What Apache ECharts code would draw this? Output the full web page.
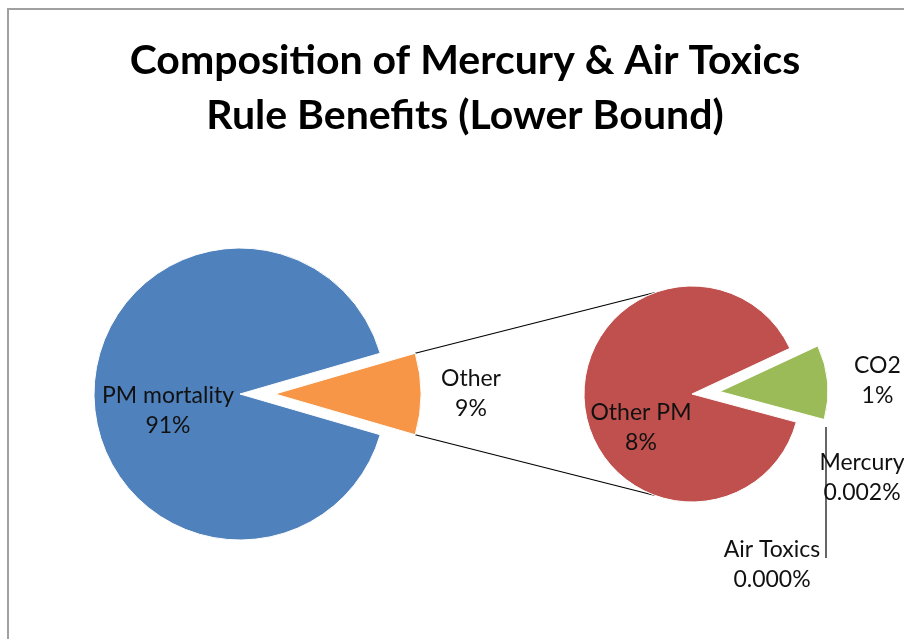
<!DOCTYPE html>
<html>
<head>
<meta charset="utf-8">
<script src="https://cdn.jsdelivr.net/npm/echarts@6/dist/echarts.min.js"></script>
<style>html,body{margin:0;padding:0;background:#fff;}#c{width:904px;height:639px;}</style>
</head>
<body>
<div id="c"></div>
<script>
// ---- data ----
var titleText = 'Composition of Mercury & Air Toxics\nRule Benefits (Lower Bound)';
var mainCategory = 'PM mortality';
var mainValue = 91;
var groupName = 'Other';
var subCategories = ['CO2', 'Mercury', 'Air Toxics', 'Other PM'];
var subValues = [1, 0.002, 0.0003, 8];
var subDecimals = [0, 3, 3, 0];

// ---- layout / style ----
var FONT = 'Lato';
var leftCenter = [240, 394], leftR = 146, leftOffset = 35;
var rightCenter = [692, 394], rightR = 108, rightOffset = 28, rightStart = 25;
var connAngle = 110;
var colors = {main: '#4F81BD', group: '#F79646', 'Other PM': '#C0504D', 'CO2': '#9BBB59', 'Mercury': '#8064A2', 'Air Toxics': '#4BACC6'};
var labelPos = {
  'PM mortality': [168, 411],
  'Other': [453, 396],
  'Other PM': [641, 428],
  'CO2': [852, 382],
  'Mercury': [862, 478],
  'Air Toxics': [772, 565]
};
var leaderX = 826, leaderTop = 427, leaderBottom = 558;

var groupValue = subValues.reduce(function (a, b) { return a + b; }, 0);
var total = mainValue + groupValue;
function pct(v, d) { return (v / total * 100).toFixed(d) + '%'; }

var groupAngle = groupValue / total * 360;
var leftStart = groupAngle / 2;

var chart = echarts.init(document.getElementById('c'), null, {renderer: 'canvas'});

function itemStyle(c) { return {color: c, borderColor: '#fff', borderWidth: 1}; }

var leftData = [
  {name: groupName, value: groupValue, selected: true, itemStyle: itemStyle(colors.group),
   select: {itemStyle: itemStyle(colors.group)}, _d: 0},
  {name: mainCategory, value: mainValue, itemStyle: itemStyle(colors.main), _d: 0}
];
var rightData = subCategories.map(function (n, i) {
  var o = {name: n, value: subValues[i], itemStyle: itemStyle(colors[n]), _d: subDecimals[i]};
  if (n === 'CO2') { o.selected = true; o.select = {itemStyle: itemStyle(colors[n])}; }
  if (n === 'Air Toxics') { o.labelLine = {show: true, lineStyle: {color: '#000', width: 1.2}}; }
  return o;
});

var labelStyle = {
  show: true, position: 'outside', color: '#111', fontFamily: FONT, fontSize: 23, lineHeight: 30,
  align: 'center',
  formatter: function (p) { return p.name + '\n' + pct(p.value, p.data._d); }
};

function makeLayout(series) {
  return function (params) {
    var name = series[params.dataIndex].name;
    var pos = labelPos[name];
    var r = {x: pos[0], y: pos[1], align: 'center', verticalAlign: 'middle'};
    if (name === 'Air Toxics') {
      r.labelLinePoints = [[leaderX, leaderTop], [leaderX, (leaderTop + leaderBottom) / 2], [leaderX, leaderBottom]];
    }
    return r;
  };
}

function rad(a) { return a * Math.PI / 180; }
var exC = [leftCenter[0] + leftOffset, leftCenter[1]];
var topStart = [exC[0] + leftR * Math.cos(rad(leftStart)), exC[1] - leftR * Math.sin(rad(leftStart))];
var botStart = [exC[0] + leftR * Math.cos(rad(leftStart)), exC[1] + leftR * Math.sin(rad(leftStart))];
var topEnd = [rightCenter[0] + rightR * Math.cos(rad(connAngle)), rightCenter[1] - rightR * Math.sin(rad(connAngle))];
var botEnd = [rightCenter[0] + rightR * Math.cos(rad(connAngle)), rightCenter[1] + rightR * Math.sin(rad(connAngle))];

chart.setOption({
  animation: false,
  backgroundColor: '#fff',
  title: {
    text: titleText, left: 460, top: 28, textAlign: 'center',
    textStyle: {fontFamily: FONT, fontSize: 41, fontWeight: 'bold', color: '#000', lineHeight: 55}
  },
  graphic: [
    {type: 'rect', shape: {x: 8, y: 9, width: 1000, height: 700}, style: {fill: 'none', stroke: '#a0a0a0', lineWidth: 2}, silent: true, z: -1},
    {type: 'line', shape: {x1: topStart[0], y1: topStart[1], x2: topEnd[0], y2: topEnd[1]}, style: {stroke: '#000', lineWidth: 1.2}, silent: true},
    {type: 'line', shape: {x1: botStart[0], y1: botStart[1], x2: botEnd[0], y2: botEnd[1]}, style: {stroke: '#000', lineWidth: 1.2}, silent: true}
  ],
  series: [
    {
      type: 'pie', center: leftCenter, radius: [0, leftR], startAngle: leftStart, clockwise: true,
      selectedMode: 'multiple', selectedOffset: leftOffset, avoidLabelOverlap: false,
      emphasis: {disabled: true}, label: labelStyle, labelLine: {show: false},
      labelLayout: makeLayout(leftData), data: leftData
    },
    {
      type: 'pie', center: rightCenter, radius: [0, rightR], startAngle: rightStart, clockwise: true,
      selectedMode: 'multiple', selectedOffset: rightOffset, avoidLabelOverlap: false,
      emphasis: {disabled: true}, label: labelStyle, labelLine: {show: false},
      labelLayout: makeLayout(rightData), data: rightData
    }
  ]
});
</script>
</body>
</html>
